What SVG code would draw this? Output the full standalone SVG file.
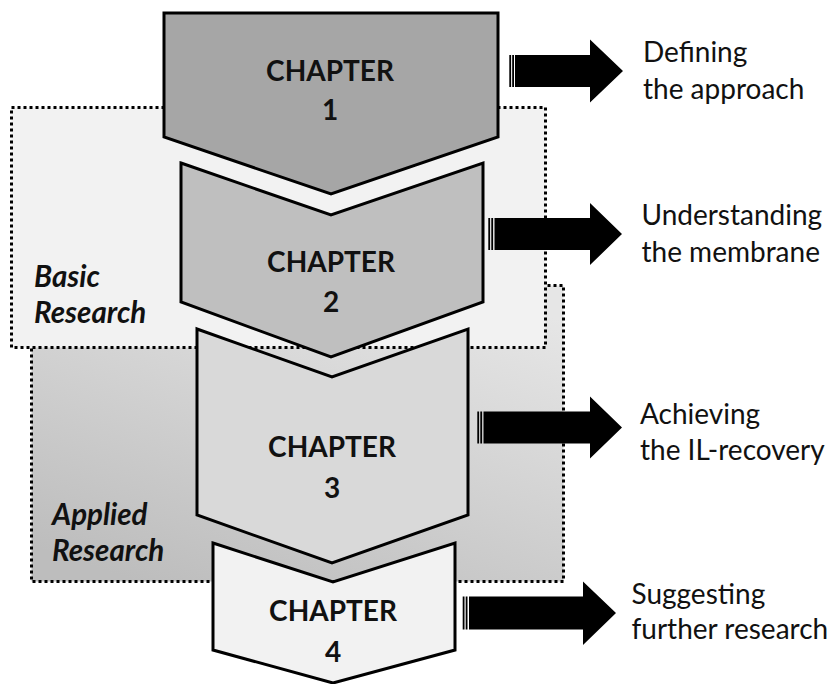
<svg xmlns="http://www.w3.org/2000/svg" width="837" height="684" viewBox="0 0 837 684">
<style>
.box{stroke:#000;stroke-width:3;stroke-dasharray:3 3}
.chev{stroke:#000;stroke-width:3;stroke-linejoin:miter}
.ch{font-family:Lato,"Liberation Sans",sans-serif;font-weight:bold;font-size:28px;fill:#111;text-anchor:middle}
.lab{font-family:Lato,"Liberation Sans",sans-serif;font-weight:bold;font-style:italic;font-size:29.5px;fill:#111}
.desc{font-family:Lato,"Liberation Sans",sans-serif;font-size:28px;fill:#111}
.arr{fill:#000}
</style>
<defs>
<linearGradient id="gApplied" x1="0.8" y1="0" x2="0.2" y2="1">
<stop offset="0" stop-color="#e6e6e6"/>
<stop offset="1" stop-color="#bdbdbd"/>
</linearGradient>
</defs>
<rect width="837" height="684" fill="#fff"/>
<g id="applied-research">
<rect class="box" x="31.5" y="285.5" width="532" height="296" fill="url(#gApplied)"/>
<text class="lab" x="52" y="525">Applied</text>
<text class="lab" x="52" y="561">Research</text>
</g>
<g id="basic-research">
<rect class="box" x="11.5" y="107.5" width="534" height="240" fill="#f2f2f2"/>
<text class="lab" x="34" y="287">Basic</text>
<text class="lab" x="34" y="323">Research</text>
</g>
<g id="chapter4">
<polygon class="chev" fill="#f2f2f2" points="213,543 333,582 455,543 455,650 333,683 213,650"/>
<text class="ch" x="333" y="621">CHAPTER</text>
<text class="ch" x="333" y="662">4</text>
</g>
<g id="chapter3">
<polygon class="chev" fill="#d9d9d9" points="197,329 332,377 468,329 468,515 332,563 197,515"/>
<text class="ch" x="332" y="457">CHAPTER</text>
<text class="ch" x="332" y="498">3</text>
</g>
<g id="chapter2">
<polygon class="chev" fill="#bfbfbf" points="181,163 331,215 483,163 483,302 331,357 181,302"/>
<text class="ch" x="331" y="272">CHAPTER</text>
<text class="ch" x="331" y="312">2</text>
</g>
<g id="chapter1">
<polygon class="chev" fill="#a6a6a6" points="164,13 498,13 498,137 331,194 164,137"/>
<text class="ch" x="330" y="81">CHAPTER</text>
<text class="ch" x="330" y="120">1</text>
</g>
<g id="connectors">
<g id="arrow1" class="arr">
<rect x="509.3" y="55" width="1.8" height="32"/>
<rect x="512.2" y="55" width="1.8" height="32"/>
<path d="M515,55 H590 V39.5 L623,71 L590,102.5 V87 H515 Z"/>
</g>
<g id="arrow2" class="arr">
<rect x="488.3" y="218" width="1.8" height="32"/>
<rect x="491.3" y="218" width="1.8" height="32"/>
<path d="M494.5,218 H590 V203 L622,234 L590,265 V250 H494.5 Z"/>
</g>
<g id="arrow3" class="arr">
<rect x="477.3" y="411.5" width="1.8" height="32"/>
<rect x="480.3" y="411.5" width="1.8" height="32"/>
<path d="M483.5,411.5 H590 V396.5 L622,427.5 L590,458.5 V443.5 H483.5 Z"/>
</g>
<g id="arrow4" class="arr">
<rect x="462.7" y="596.5" width="1.8" height="33"/>
<rect x="465.7" y="596.5" width="1.8" height="33"/>
<path d="M469,596.5 H583 V581.5 L616,613 L583,645 V629.5 H469 Z"/>
</g>
</g>
<g id="desc1">
<text class="desc" x="643" y="62">Defining</text>
<text class="desc" x="643" y="98.5">the approach</text>
</g>
<g id="desc2">
<text class="desc" x="641.5" y="225">Understanding</text>
<text class="desc" x="641.5" y="261.5">the membrane</text>
</g>
<g id="desc3">
<text class="desc" x="640" y="423.5">Achieving</text>
<text class="desc" x="640" y="459.5">the IL-recovery</text>
</g>
<g id="desc4">
<text class="desc" x="631.5" y="603.5">Suggesting</text>
<text class="desc" x="631.5" y="638.5">further research</text>
</g>
</svg>
